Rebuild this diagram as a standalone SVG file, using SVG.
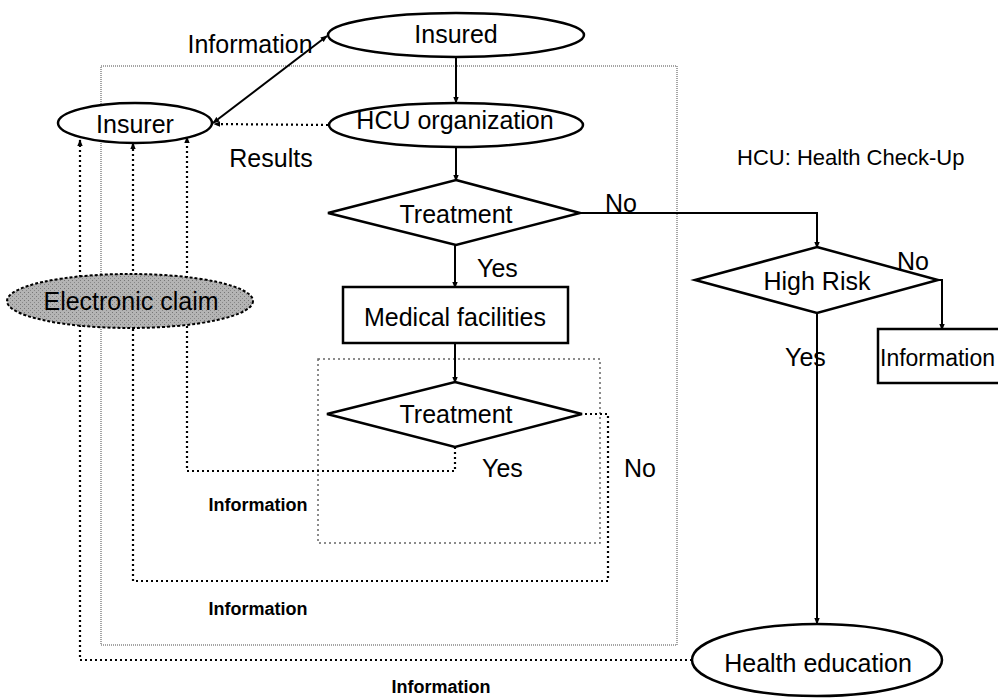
<svg xmlns="http://www.w3.org/2000/svg" width="998" height="698" viewBox="0 0 998 698">
<defs>
<marker id="ah" viewBox="0 0 10 10" refX="9" refY="5" markerWidth="7" markerHeight="7" orient="auto-start-reverse" markerUnits="userSpaceOnUse">
<path d="M0,1 L10,5 L0,9 z" fill="#000"/>
</marker>
<pattern id="stip" width="4" height="4" patternUnits="userSpaceOnUse">
<rect width="4" height="4" fill="#b4b4b4"/>
<rect x="0" y="0" width="1" height="1" fill="#777"/>
<rect x="2" y="2" width="1" height="1" fill="#888"/>
</pattern>
</defs>
<style>
text{font-family:"Liberation Sans",Arial,sans-serif;font-size:25px;fill:#000}
.c{text-anchor:middle}
.sm{font-size:18px;font-weight:bold}
.node{fill:#fff;stroke:#000;stroke-width:2.5}
.solid{fill:none;stroke:#000;stroke-width:2}
.dot{fill:none;stroke:#000;stroke-width:2.2;stroke-dasharray:2 3}
.frame{fill:none;stroke:#888;stroke-width:1.5;stroke-dasharray:1 1}
.frame2{fill:none;stroke:#666;stroke-width:1.5;stroke-dasharray:2 3}
</style>
<rect width="998" height="698" fill="#fff"/>
<g id="frames">
<rect class="frame" x="101" y="66" width="576" height="579"/>
<rect class="frame2" x="318" y="359" width="282" height="184"/>
</g>
<g id="connectors">
<line class="solid" x1="213" y1="123" x2="327" y2="36" marker-start="url(#ah)" marker-end="url(#ah)"/>
<line class="solid" x1="456" y1="57" x2="456" y2="103" marker-end="url(#ah)"/>
<line class="dot" x1="328" y1="125" x2="214" y2="124" marker-end="url(#ah)"/>
<line class="solid" x1="456" y1="147" x2="456" y2="181" marker-end="url(#ah)"/>
<line class="solid" x1="455" y1="245" x2="455" y2="288" marker-end="url(#ah)"/>
<polyline class="solid" stroke-width="1.5" points="580,213 817,213 817,248" marker-end="url(#ah)"/>
<line class="solid" x1="455" y1="343" x2="455" y2="383" marker-end="url(#ah)"/>
<polyline class="dot" points="455,447 455,471 187,471 187,137" marker-end="url(#ah)"/>
<polyline class="dot" points="580,414 608,414 608,581 133,581 133,143" marker-end="url(#ah)"/>
<polyline class="dot" points="692,660 80,660 80,140" marker-end="url(#ah)"/>
<line class="solid" x1="817" y1="313" x2="817" y2="624" marker-end="url(#ah)"/>
<polyline class="solid" points="938,280 942,280 942,330" marker-end="url(#ah)"/>
</g>
<g id="insured"><ellipse class="node" cx="456" cy="35" rx="128" ry="22"/><text class="c" x="456" y="43">Insured</text></g>
<g id="insurer"><ellipse class="node" cx="135" cy="123" rx="77" ry="20"/><text class="c" x="135" y="133">Insurer</text></g>
<g id="hcu-org"><ellipse class="node" cx="456" cy="125" rx="127" ry="22"/><text class="c" x="455" y="129">HCU organization</text></g>
<g id="treatment1"><polygon class="node" points="456,180 580,213 456,245 328,213"/><text class="c" x="456" y="223">Treatment</text></g>
<g id="medical"><rect class="node" x="343" y="287" width="225" height="56"/><text class="c" x="455" y="326">Medical facilities</text></g>
<g id="treatment2"><polygon class="node" points="455,382 582,414 455,447 327,414"/><text class="c" x="456" y="423">Treatment</text></g>
<g id="highrisk"><polygon class="node" points="817,247 938,280 817,313 695,280"/><text class="c" x="817" y="290">High Risk</text></g>
<g id="information-box"><rect class="node" x="878" y="329" width="140" height="54"/><text x="880" y="366" style="font-size:23px">Information</text></g>
<g id="health-education"><ellipse class="node" cx="817" cy="660" rx="125" ry="36"/><text class="c" x="818" y="672">Health education</text></g>
<g id="electronic-claim"><ellipse cx="130" cy="301" rx="123" ry="27" fill="url(#stip)" stroke="#000" stroke-width="2" stroke-dasharray="3 2"/><text class="c" x="131" y="310">Electronic claim</text></g>
<g id="labels">
<text class="c" x="250" y="53">Information</text>
<text class="c" x="271" y="167">Results</text>
<text x="605" y="212">No</text>
<text x="477" y="277">Yes</text>
<text x="482" y="477">Yes</text>
<text x="624" y="477">No</text>
<text x="897" y="270">No</text>
<text x="785" y="366">Yes</text>
<text class="c sm" x="258" y="511">Information</text>
<text class="c sm" x="258" y="615">Information</text>
<text class="c sm" x="441" y="693">Information</text>
<text x="737" y="165" style="font-size:22px">HCU: Health Check-Up</text>
</g>
</svg>
